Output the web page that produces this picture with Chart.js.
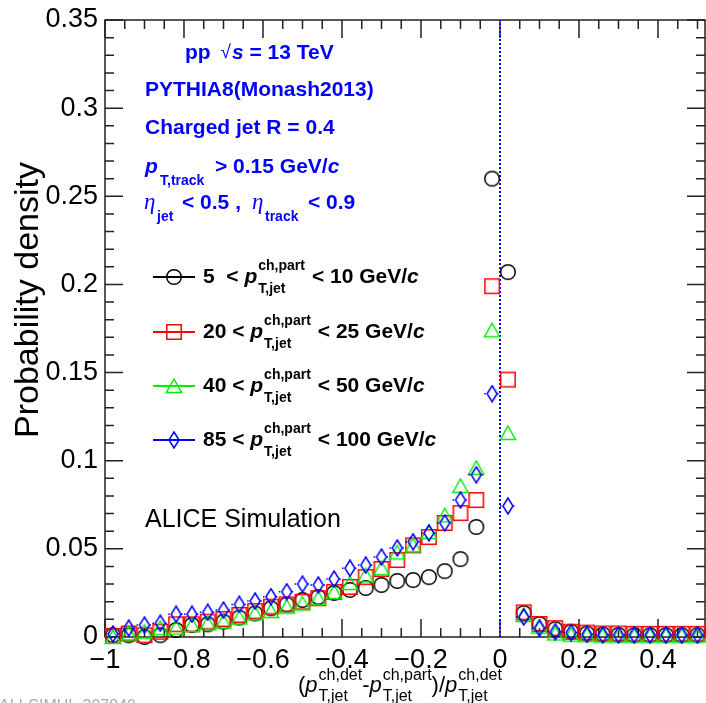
<!DOCTYPE html>
<html>
<head>
<meta charset="utf-8">
<script src="https://cdn.jsdelivr.net/npm/chart.js@4.4.0/dist/chart.umd.min.js"></script>
<style>
  html, body { margin: 0; padding: 0; background: #fff; }
  #wrap { width: 706px; height: 703px; }
</style>
</head>
<body>
<div id="wrap"><canvas id="myChart" width="706" height="703"></canvas></div>
<script>
// bin centres of (pT det - pT part)/pT det
const binCenters = [-0.98, -0.94, -0.90, -0.86, -0.82, -0.78, -0.74, -0.70, -0.66, -0.62,
  -0.58, -0.54, -0.50, -0.46, -0.42, -0.38, -0.34, -0.30, -0.26, -0.22,
  -0.18, -0.14, -0.10, -0.06, -0.02, 0.02, 0.06, 0.10, 0.14, 0.18,
  0.22, 0.26, 0.30, 0.34, 0.38, 0.42, 0.46, 0.50]

const pt5to10 = [0.001, 0.001, 0.000, 0.001, 0.004, 0.0068, 0.0072, 0.0087, 0.011, 0.0134,
  0.0163, 0.0185, 0.021, 0.0227, 0.025, 0.0267, 0.0278, 0.0295, 0.0318, 0.0323,
  0.034, 0.0374, 0.0442, 0.0624, 0.260, 0.207, 0.0136, 0.0074, 0.0045, 0.003,
  0.002, 0.0015, 0.0012, 0.001, 0.001, 0.001, 0.001, 0.001]

const pt20to25 = [0.0006, 0.002, 0.001, 0.003, 0.0072, 0.0072, 0.0087, 0.0102, 0.0125, 0.0147,
  0.0172, 0.0185, 0.020, 0.022, 0.0255, 0.0284, 0.034, 0.0386, 0.0437, 0.052,
  0.0567, 0.0647, 0.0703, 0.0777, 0.199, 0.146, 0.014, 0.0074, 0.005, 0.003,
  0.0025, 0.002, 0.002, 0.0018, 0.0018, 0.0018, 0.0018, 0.0018]

const pt40to50 = [0.000, 0.002, 0.003, 0.005, 0.0053, 0.0068, 0.0078, 0.0087, 0.011, 0.0134,
  0.0147, 0.0172, 0.019, 0.022, 0.0255, 0.0306, 0.035, 0.039, 0.048, 0.052,
  0.0596, 0.069, 0.0857, 0.0959, 0.174, 0.1157, 0.0125, 0.0059, 0.002, 0.0013,
  0.001, 0.0008, 0.0008, 0.0008, 0.0008, 0.0008, 0.0008, 0.0008]

const pt85to100 = [0.0017, 0.005, 0.0068, 0.0078, 0.0129, 0.0129, 0.014, 0.0153, 0.0185, 0.0204,
  0.0229, 0.0257, 0.030, 0.0295, 0.0329, 0.039, 0.0408, 0.0454, 0.0505, 0.054,
  0.059, 0.0647, 0.0777, 0.092, 0.138, 0.0743, 0.0113, 0.005, 0.003, 0.0025,
  0.0015, 0.0012, 0.0012, 0.0012, 0.0012, 0.0012, 0.0012, 0.0012]

const binHalfWidth = 0.02

const xTickValues = [-1, -0.8, -0.6, -0.4, -0.2, 0, 0.2, 0.4]
const xTickLabels = ['\u22121', '\u22120.8', '\u22120.6', '\u22120.4', '\u22120.2', '0', '0.2', '0.4']
const yTickValues = [0, 0.05, 0.1, 0.15, 0.2, 0.25, 0.3, 0.35]
const yTickLabels = ['0', '0.05', '0.1', '0.15', '0.2', '0.25', '0.3', '0.35']

const legendLabels = [
  ['5  < ', '< 10 GeV/'],
  ['20 < ', '< 25 GeV/'],
  ['40 < ', '< 50 GeV/'],
  ['85 < ', '< 100 GeV/']
]

const SANS = '"Liberation Sans", Arial, Helvetica, sans-serif'
const colors = ['#000000', '#ff0000', '#00ee00', '#0000ff']

// ROOT-like open markers drawn on small canvases
const makeMarker = (kind, color) => {
  const c = document.createElement('canvas')
  c.width = 18
  c.height = 18
  const g = c.getContext('2d')
  g.strokeStyle = color
  g.lineWidth = 1.5
  g.beginPath()
  if (kind === 'circle') {
    g.arc(9, 9, 7.3, 0, Math.PI * 2)
  } else if (kind === 'square') {
    g.rect(1.8, 1.8, 14.4, 14.4)
  } else if (kind === 'triangle') {
    g.moveTo(9, 2)
    g.lineTo(16.6, 15.5)
    g.lineTo(1.4, 15.5)
    g.closePath()
  } else {
    g.moveTo(9, 1)
    g.lineTo(14, 9)
    g.lineTo(9, 17)
    g.lineTo(4, 9)
    g.closePath()
  }
  g.stroke()
  return c
}

const markers = [
  makeMarker('circle', colors[0]),
  makeMarker('square', colors[1]),
  makeMarker('triangle', colors[2]),
  makeMarker('diamond', colors[3])
]

const toPoints = vals => vals.map((v, i) => ({ x: binCenters[i], y: v }))

const seriesSet = (vals, i) => ({
  type: 'scatter',
  data: toPoints(vals),
  pointStyle: markers[i],
  pointRadius: 8,
  pointHoverRadius: 8,
  showLine: false,
  clip: false,
  order: 4 - i
})

// small horizontal error bars (dotted) visible beside markers
const errorBars = {
  id: 'errorBars',
  afterDatasetsDraw(chart) {
    const ctx = chart.ctx
    const xs = chart.scales.x
    ctx.save()
    ;[[2, 7.5], [3, 5]].forEach(([di, half]) => {
      const meta = chart.getDatasetMeta(di)
      ctx.strokeStyle = colors[di]
      ctx.lineWidth = 1.5
      ctx.setLineDash([1.5, 1.5])
      meta.data.forEach((pt, i) => {
        const x0 = xs.getPixelForValue(binCenters[i] - binHalfWidth)
        const x1 = xs.getPixelForValue(binCenters[i] + binHalfWidth)
        const y = pt.y
        ctx.beginPath()
        ctx.moveTo(x0, y)
        ctx.lineTo(pt.x - half, y)
        ctx.moveTo(pt.x + half, y)
        ctx.lineTo(x1, y)
        ctx.stroke()
      })
    })
    ctx.restore()
  }
}

// frame and ROOT style inward ticks
const frame = {
  id: 'frame',
  beforeDatasetsDraw(chart) {
    const ctx = chart.ctx
    const a = chart.chartArea
    const xs = chart.scales.x
    const ys = chart.scales.y
    ctx.save()
    ctx.strokeStyle = '#222'
    ctx.lineWidth = 1.5
    ctx.strokeRect(a.left, a.top, a.right - a.left, a.bottom - a.top)
    ctx.beginPath()
    for (let i = 0; i <= 35; i++) {
      const y = ys.getPixelForValue(i * 0.01)
      const len = i % 5 === 0 ? 18 : 9
      ctx.moveTo(a.left, y)
      ctx.lineTo(a.left + len, y)
      ctx.moveTo(a.right, y)
      ctx.lineTo(a.right - len, y)
    }
    for (let i = 0; i <= 30; i++) {
      const v = -1 + i * 0.05
      const x = xs.getPixelForValue(v)
      const len = i % 4 === 0 ? 18 : 9
      ctx.moveTo(x, a.bottom)
      ctx.lineTo(x, a.bottom - len)
      ctx.moveTo(x, a.top)
      ctx.lineTo(x, a.top + len)
    }
    ctx.stroke()
    ctx.restore()
  }
}

const put = (ctx, s, x, y, font, color) => {
  ctx.font = font
  ctx.fillStyle = color
  ctx.textAlign = 'left'
  ctx.textBaseline = 'middle'
  ctx.fillText(s, x, y)
  return x + ctx.measureText(s).width
}

const stack = (ctx, sup, sub, x, y, font, color, up, down) => {
  const a = put(ctx, sup, x, y - up, font, color)
  const b = put(ctx, sub, x, y + down, font, color)
  return Math.max(a, b)
}

const texts = {
  id: 'texts',
  afterDraw(chart) {
    const ctx = chart.ctx
    ctx.save()
    const blue = '#0000ff'
    const B = 'bold 21px ' + SANS
    const BI = 'italic bold 21px ' + SANS
    const SB = 'bold 14px ' + SANS

    // header
    let x = put(ctx, 'pp ', 185, 53, B, blue)
    x = put(ctx, '\u221A', x + 4, 53, '19px ' + SANS, blue)
    x = put(ctx, 's', x + 1, 53, BI, blue)
    put(ctx, ' = 13 TeV', x, 53, B, blue)
    put(ctx, 'PYTHIA8(Monash2013)', 145, 90, B, blue)
    put(ctx, 'Charged jet R = 0.4', 145, 128, B, blue)
    put(ctx, 'p', 145, 167, BI, blue)
    put(ctx, 'T,track', 160, 181, SB, blue)
    x = put(ctx, '> 0.15 GeV/', 215, 167, B, blue)
    put(ctx, 'c', x, 167, BI, blue)
    const ETA = 'italic 23px "Liberation Serif", "DejaVu Serif", serif'
    put(ctx, '\u03B7', 144, 203, ETA, blue)
    put(ctx, 'jet', 157, 217, SB, blue)
    put(ctx, '< 0.5 ,', 182, 203, B, blue)
    put(ctx, '\u03B7', 252, 203, ETA, blue)
    put(ctx, 'track', 265, 217, SB, blue)
    put(ctx, '< 0.9', 308, 203, B, blue)

    // legend
    const rows = [277, 332, 386, 440]
    rows.forEach((y, i) => {
      ctx.strokeStyle = colors[i]
      ctx.lineWidth = 2
      ctx.beginPath()
      ctx.moveTo(153, y)
      ctx.lineTo(195, y)
      ctx.stroke()
      ctx.drawImage(markers[i], 174 - 9, y - 9)
      let lx = put(ctx, legendLabels[i][0], 203, y, B, '#000')
      lx = put(ctx, 'p', lx, y, BI, '#000')
      lx = stack(ctx, 'ch,part', 'T,jet', lx + 1, y, SB, '#000', 11, 12)
      lx = put(ctx, legendLabels[i][1], lx + 7, y, B, '#000')
      put(ctx, 'c', lx, y, BI, '#000')
    })

    put(ctx, 'ALICE Simulation', 145, 520, '25px ' + SANS, '#000')

    // axis titles
    const M = '22px ' + SANS
    const MI = 'italic 22px ' + SANS
    const S = '16px ' + SANS
    const ty = 686
    x = put(ctx, '(', 298, ty, M, '#000')
    x = put(ctx, 'p', x, ty, MI, '#000')
    x = stack(ctx, 'ch,det', 'T,jet', x + 1, ty, S, '#000', 10, 11)
    x = put(ctx, '-', x, ty, M, '#000')
    x = put(ctx, 'p', x, ty, MI, '#000')
    x = stack(ctx, 'ch,part', 'T,jet', x + 1, ty, S, '#000', 10, 11)
    x = put(ctx, ')/', x, ty, M, '#000')
    x = put(ctx, 'p', x, ty, MI, '#000')
    stack(ctx, 'ch,det', 'T,jet', x + 1, ty, S, '#000', 10, 11)

    ctx.save()
    ctx.translate(29, 300)
    ctx.rotate(-Math.PI / 2)
    ctx.font = '34px ' + SANS
    ctx.fillStyle = '#000'
    ctx.textAlign = 'center'
    ctx.textBaseline = 'middle'
    ctx.fillText('Probability density', 0, 0)
    ctx.restore()

    ctx.font = '16px ' + SANS
    ctx.fillStyle = '#aaa'
    ctx.textBaseline = 'top'
    ctx.fillText('ALI-SIMUL-307840', -1, 699)
    ctx.restore()
  }
}

let myChart = document.querySelector('#myChart').getContext('2d')

const noPad = s => {
  s.paddingLeft = 0
  s.paddingRight = 0
  s.paddingTop = 0
  s.paddingBottom = 0
}

const buildChart = () => {
  new Chart(myChart, {
    data: {
      datasets: [
        seriesSet(pt5to10, 0),
        seriesSet(pt20to25, 1),
        seriesSet(pt40to50, 2),
        seriesSet(pt85to100, 3),
        {
          type: 'line',
          data: [{ x: 0, y: 0 }, { x: 0, y: 0.35 }],
          borderColor: '#0000ff',
          borderWidth: 2,
          borderDash: [2, 2],
          pointRadius: 0,
          order: 10
        }
      ]
    },
    options: {
      responsive: false,
      animation: false,
      devicePixelRatio: 1,
      layout: { autoPadding: false, padding: { top: 20, right: 1, left: 0, bottom: 0 } },
      plugins: { legend: { display: false }, tooltip: { enabled: false } },
      scales: {
        x: {
          type: 'linear',
          min: -1,
          max: 0.519,
          afterBuildTicks: s => { s.ticks = xTickValues.map(v => ({ value: v })) },
          afterFit: s => { s.height = 66; noPad(s) },
          grid: { display: false, drawTicks: false },
          border: { display: false },
          ticks: {
            callback: (v, i) => xTickLabels[i],
            font: { family: SANS, size: 27 },
            color: '#000',
            padding: 7,
            maxRotation: 0,
            autoSkip: false
          }
        },
        y: {
          type: 'linear',
          min: 0,
          max: 0.35,
          afterBuildTicks: s => { s.ticks = yTickValues.map(v => ({ value: v })) },
          afterFit: s => { s.width = 105; noPad(s) },
          grid: { display: false, drawTicks: false },
          border: { display: false },
          ticks: {
            callback: (v, i) => yTickLabels[i],
            font: { family: SANS, size: 27 },
            color: '#000',
            padding: 7,
            autoSkip: false
          }
        }
      }
    },
    plugins: [frame, errorBars, texts]
  })
}

buildChart()
</script>
</body>
</html>
